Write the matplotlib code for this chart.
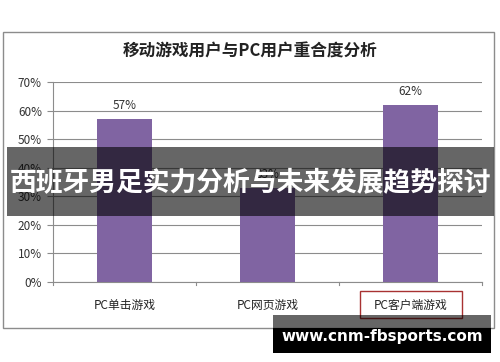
import matplotlib.pyplot as plt
from matplotlib.patches import Rectangle

plt.rcParams['font.family'] = ['Noto Sans CJK SC', 'DejaVu Sans']

categories = ['PC单击游戏', 'PC网页游戏', 'PC客户端游戏']
values = [0.57, 0.33, 0.62]
value_labels = ['57%', '33%', '62%']
y_ticks = [0, 0.1, 0.2, 0.3, 0.4, 0.5, 0.6, 0.7]
y_tick_labels = ['0%', '10%', '20%', '30%', '40%', '50%', '60%', '70%']
title = '移动游戏用户与PC用户重合度分析'
banner = '西班牙男足实力分析与未来发展趋势探讨'
watermark = 'www.cnm-fbsports.com'

W, H = 500, 362
fig = plt.figure(figsize=(W / 100, H / 100), dpi=100)


def fx(px):
    return px / W


def fy(py):
    return 1 - py / H


# chart frame
fig.patches.append(Rectangle((fx(3), fy(328)), fx(491), 296 / H, transform=fig.transFigure,
                             fill=False, edgecolor='#8c8c8c', linewidth=1.0))

ax = fig.add_axes([fx(53), fy(282), fx(429), 200 / H])
x = range(len(categories))
ax.bar(x, values, width=0.39, color='#8064a2', zorder=3)
ax.set_xlim(-0.5, 2.5)
ax.set_ylim(0, 0.7)
ax.set_yticks(y_ticks)
ax.set_yticklabels(y_tick_labels, fontsize=8.5, color='#333333')
ax.set_xticks(list(x))
ax.set_xticklabels(categories, fontsize=8.5, color='#222222')
ax.tick_params(axis='y', length=4, color='#8c8c8c', pad=4)
ax.tick_params(axis='x', length=0, pad=12)
# small boundary ticks on x axis
for b in [-0.5, 0.5, 1.5, 2.5]:
    ax.plot([b, b], [0, -0.012], color='#8c8c8c', linewidth=0.8, clip_on=False)
ax.grid(axis='y', color='#8c8c8c', linewidth=0.8, zorder=0)
for s in ['top', 'right']:
    ax.spines[s].set_visible(False)
ax.spines['left'].set_color('#8c8c8c')
ax.spines['bottom'].set_color('#8c8c8c')
for i, v in enumerate(values):
    ax.annotate(value_labels[i], (i, v), xytext=(0, 5), textcoords='offset points',
                ha='center', va='bottom', fontsize=8.5, color='#333333')

fig.text(0.5, fy(52), title, ha='center', va='center', fontsize=12, fontweight='bold', color='#222222')

# red box around last category label
fig.patches.append(Rectangle((fx(360), fy(318)), fx(102), 27 / H, transform=fig.transFigure,
                             fill=False, edgecolor='#a83232', linewidth=1.0))

# overlay banner
fig.patches.append(Rectangle((fx(7), fy(216)), fx(487), 69 / H, transform=fig.transFigure,
                             facecolor='black', alpha=0.6, edgecolor='none', zorder=10))
fig.text(0.5, fy(183), banner, ha='center', va='center', fontsize=19.3, fontweight='bold',
         color='white', zorder=11)

# watermark
fig.patches.append(Rectangle((fx(273), fy(328)), fx(218), 13 / H, transform=fig.transFigure,
                             facecolor='black', alpha=0.6, edgecolor='none', zorder=10))
fig.patches.append(Rectangle((fx(273), fy(353)), fx(218), 25 / H, transform=fig.transFigure,
                             facecolor='black', edgecolor='none', zorder=10))
fig.text(fx(382), fy(337), watermark, ha='center', va='center', fontsize=11, fontweight='bold',
         color='white', family='DejaVu Sans', zorder=11)

fig.savefig('out.png', dpi=100)
